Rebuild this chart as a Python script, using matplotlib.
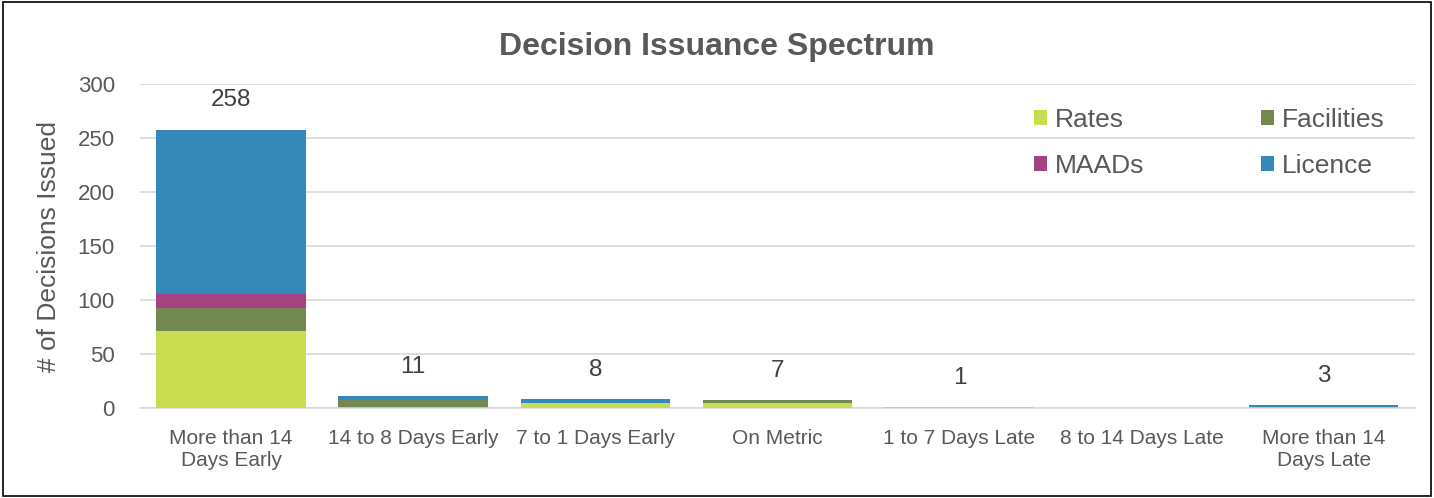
import matplotlib.pyplot as plt
import matplotlib.patches as mpatches
import numpy as np

plt.rcParams['font.family'] = ['Liberation Sans', 'DejaVu Sans']

categories = ["More than 14\nDays Early", "14 to 8 Days Early", "7 to 1 Days Early",
              "On Metric", "1 to 7 Days Late", "8 to 14 Days Late", "More than 14\nDays Late"]
rates = [71, 1, 5, 5, 1, 0, 1]
facilities = [22, 6, 0, 2, 0, 0, 0]
maads = [13, 0, 0, 0, 0, 0, 0]
licence = [152, 4, 3, 0, 0, 0, 2]
totals = [258, 11, 8, 7, 1, None, 3]

series = [("Rates", rates, "#c8da45"),
          ("Facilities", facilities, "#6b8347"),
          ("MAADs", maads, "#a0397b"),
          ("Licence", licence, "#2a83b6")]

txt = "#595959"
fig = plt.figure(figsize=(14.34, 4.98), dpi=100)
ax = fig.add_axes([0.0976, 0.1807, 0.889, 0.6503])

x = np.arange(len(categories))
bottom = np.zeros(len(categories))
bars = {}
for name, vals, col in series:
    bars[name] = ax.bar(x, vals, 0.82, bottom=bottom, color=col, alpha=0.95, label=name, zorder=3)
    bottom += np.array(vals)

for xi, t in zip(x, totals):
    if t is None:
        continue
    ax.annotate(str(t), (xi, t), xytext=(0, 13), textcoords='offset points',
                ha='center', va='bottom', fontsize=17.5, color='#404040')

ax.set_xlim(-0.5, len(categories) - 0.5)
ax.set_ylim(0, 300)
ax.set_yticks(range(0, 301, 50))
ax.grid(axis='y', color='#d9d9d9', linewidth=1.2, zorder=0)
ax.set_axisbelow(True)
for s in ['top', 'right', 'left']:
    ax.spines[s].set_visible(False)
ax.spines['bottom'].set_color('#d9d9d9')
ax.spines['bottom'].set_linewidth(1.2)
ax.tick_params(axis='y', length=0, labelsize=16, colors=txt, pad=18)
ax.tick_params(axis='x', length=0, labelsize=15, colors=txt, pad=15)
ax.set_xticks(x)
ax.set_xticklabels(categories, linespacing=1.2)
ax.set_ylabel("# of Decisions Issued", fontsize=19, color=txt, labelpad=12)

fig.text(0.5, 0.905, "Decision Issuance Spectrum", ha='center', va='center',
         fontsize=23, fontweight='bold', color=txt)

order = ["Rates", "MAADs", "Facilities", "Licence"]
leg = ax.legend([bars[n] for n in order], order, ncol=2, loc='upper right',
                bbox_to_anchor=(0.995, 1.0), frameon=False,
                fontsize=19, handlelength=0.5, handleheight=0.5, handletextpad=0.3,
                columnspacing=4.4, labelspacing=0.85)
for t in leg.get_texts():
    t.set_color(txt)

fig.patches.append(mpatches.Rectangle((0.002, 0.004), 0.996, 0.992, transform=fig.transFigure,
                                      fill=False, edgecolor='#000000', linewidth=1.2))

fig.savefig("out.png", dpi=100)
